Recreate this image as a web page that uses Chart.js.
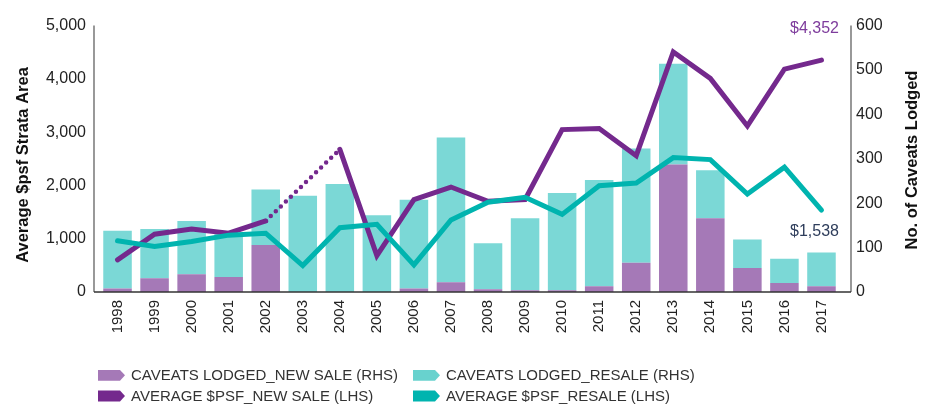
<!DOCTYPE html>
<html>
<head>
<meta charset="utf-8">
<script src="https://cdn.jsdelivr.net/npm/chart.js@4/dist/chart.umd.min.js"></script>
<style>
  html, body { margin: 0; padding: 0; background: #ffffff; }
  #wrap { width: 930px; height: 405px; position: relative; }
</style>
</head>
<body>
<div id="wrap"><canvas id="c" width="930" height="405"></canvas></div>
<script>
const years = ['1998','1999','2000','2001','2002','2003','2004','2005','2006','2007','2008','2009','2010','2011','2012','2013','2014','2015','2016','2017'];
const caveatsNewSale = [8, 31, 40, 34, 106, 0, 0, 0, 8, 22, 6, 4, 4, 13, 66, 287, 166, 54, 20, 13];
const caveatsResale = [130, 111, 120, 97, 125, 217, 243, 173, 200, 326, 104, 162, 219, 239, 257, 227, 108, 64, 55, 76];
const psfNewSale = [602, 1085, 1184, 1104, 1333, null, 2677, 682, 1736, 1970, 1704, 1736, 3048, 3067, 2559, 4506, 4009, 3117, 4182, 4352];
const psfResale = [961, 855, 948, 1067, 1104, 496, 1208, 1271, 509, 1351, 1686, 1779, 1457, 1996, 2045, 2522, 2485, 1840, 2342, 1538];
// dotted bridge over the missing 2003 new-sale value (uses the same readings for 2002 and 2004)
const dottedFrom = 4, dottedTo = 6;
const psfNewSaleBridge = psfNewSale.map((v, i) => (i === dottedFrom || i === dottedTo) ? v : null);

const leftTicks = [0, 1000, 2000, 3000, 4000, 5000];
const rightTicks = [0, 100, 200, 300, 400, 500, 600];
const leftTitle = 'Average $psf Strata Area';
const rightTitle = 'No. of Caveats Lodged';
const legendLabels = ['CAVEATS LODGED_NEW SALE (RHS)', 'CAVEATS LODGED_RESALE (RHS)', 'AVERAGE $PSF_NEW SALE (LHS)', 'AVERAGE $PSF_RESALE (LHS)'];

const C_BAR_NEW = '#A579B7';
const C_BAR_RES = '#7BD8D6';
const C_LINE_NEW = '#74298D';
const C_LINE_RES = '#00B4AF';
const FONT = '"Liberation Sans", Arial, Helvetica, sans-serif';

const fmt = v => Number(v).toLocaleString('en-US');

const decor = {
  id: 'decor',
  afterDraw(chart) {
    const ctx = chart.ctx;
    const a = chart.chartArea;
    const xs = chart.scales.x, yL = chart.scales.y;
    ctx.save();
    // axis lines
    const axL = a.left - 5, axR = a.right + 11;
    ctx.strokeStyle = '#555';
    ctx.lineWidth = 1.2;
    ctx.beginPath();
    ctx.moveTo(axL, a.top); ctx.lineTo(axL, a.bottom);
    ctx.moveTo(axR, a.top); ctx.lineTo(axR, a.bottom);
    ctx.stroke();
    ctx.strokeStyle = '#333';
    ctx.lineWidth = 1.6;
    ctx.beginPath();
    ctx.moveTo(axL, a.bottom); ctx.lineTo(axR, a.bottom);
    ctx.stroke();

    // axis titles
    ctx.fillStyle = '#111';
    ctx.font = 'bold 16.5px ' + FONT;
    ctx.textAlign = 'center';
    ctx.textBaseline = 'middle';
    ctx.save();
    ctx.translate(23, 165);
    ctx.rotate(-Math.PI / 2);
    ctx.fillText(leftTitle, 0, 0);
    ctx.restore();
    ctx.save();
    ctx.translate(912, 160);
    ctx.rotate(-Math.PI / 2);
    ctx.fillText(rightTitle, 0, 0);
    ctx.restore();

    // end annotations
    const last = years.length - 1;
    const lx = xs.getPixelForValue(last) + 17.5;
    ctx.font = '16px ' + FONT;
    ctx.textAlign = 'right';
    ctx.fillStyle = '#7E3C9C';
    ctx.fillText('$' + fmt(psfNewSale[last]), lx, yL.getPixelForValue(psfNewSale[last]) - 32);
    ctx.fillStyle = '#2E3D5B';
    ctx.fillText('$' + fmt(psfResale[last]), lx, yL.getPixelForValue(psfResale[last]) + 21.5);

    // legend
    const items = [
      { x: 98, y: 375.3, c: C_BAR_NEW, t: legendLabels[0] },
      { x: 413, y: 375.3, c: '#68D2CE', t: legendLabels[1] },
      { x: 98, y: 396, c: C_LINE_NEW, t: legendLabels[2] },
      { x: 413, y: 396, c: C_LINE_RES, t: legendLabels[3] }
    ];
    ctx.font = '15px ' + FONT;
    ctx.textAlign = 'left';
    ctx.textBaseline = 'middle';
    items.forEach(it => {
      ctx.fillStyle = it.c;
      ctx.beginPath();
      ctx.moveTo(it.x, it.y - 5.4);
      ctx.lineTo(it.x + 22, it.y - 5.4);
      ctx.lineTo(it.x + 27, it.y);
      ctx.lineTo(it.x + 22, it.y + 5.4);
      ctx.lineTo(it.x, it.y + 5.4);
      ctx.closePath();
      ctx.fill();
      ctx.fillStyle = '#333';
      ctx.fillText(it.t, it.x + 33, it.y + 0.5);
    });
    ctx.restore();
  }
};

new Chart(document.getElementById('c'), {
  data: {
    labels: years,
    datasets: [
      {
        type: 'line', label: 'AVERAGE $PSF_RESALE (LHS)', data: psfResale, yAxisID: 'y',
        borderColor: C_LINE_RES, borderWidth: 5, pointRadius: 0, tension: 0,
        borderCapStyle: 'round', borderJoinStyle: 'miter', order: 0
      },
      {
        type: 'line', label: 'AVERAGE $PSF_NEW SALE (LHS)', data: psfNewSale, yAxisID: 'y',
        borderColor: C_LINE_NEW, borderWidth: 5, pointRadius: 0, tension: 0, spanGaps: false,
        borderCapStyle: 'round', borderJoinStyle: 'miter', order: 1
      },
      {
        type: 'line', label: 'bridge', data: psfNewSaleBridge, yAxisID: 'y',
        borderColor: C_LINE_NEW, borderWidth: 4.5, pointRadius: 0, tension: 0, spanGaps: true,
        borderDash: [0, 7], borderCapStyle: 'round', order: 1
      },
      {
        type: 'bar', label: 'CAVEATS LODGED_NEW SALE (RHS)', data: caveatsNewSale, yAxisID: 'y1',
        backgroundColor: C_BAR_NEW, borderWidth: 0, stack: 'c', order: 2,
        barPercentage: 0.77, categoryPercentage: 1
      },
      {
        type: 'bar', label: 'CAVEATS LODGED_RESALE (RHS)', data: caveatsResale, yAxisID: 'y1',
        backgroundColor: C_BAR_RES, borderWidth: 0, stack: 'c', order: 2,
        barPercentage: 0.77, categoryPercentage: 1
      }
    ]
  },
  options: {
    responsive: false,
    animation: false,
    layout: { padding: { top: 23, left: 0, right: 0, bottom: 0 } },
    plugins: { legend: { display: false }, tooltip: { enabled: false } },
    scales: {
      x: {
        stacked: true,
        offset: true,
        grid: { display: false, drawTicks: false },
        border: { display: false },
        ticks: {
          minRotation: 90, maxRotation: 90, autoSkip: false, padding: 8,
          color: '#222', font: { family: FONT, size: 15 }
        },
        afterFit: s => { s.height = 113; }
      },
      y: {
        position: 'left', min: 0, max: 5000,
        grid: { display: false, drawTicks: false },
        border: { display: false },
        afterBuildTicks: s => { s.ticks = leftTicks.map(v => ({ value: v })); },
        ticks: { padding: 13, color: '#222', font: { family: FONT, size: 16 }, callback: v => fmt(v) },
        afterFit: s => { s.width = 99; }
      },
      y1: {
        position: 'right', min: 0, max: 600, stacked: true,
        grid: { display: false, drawTicks: false },
        border: { display: false },
        afterBuildTicks: s => { s.ticks = rightTicks.map(v => ({ value: v })); },
        ticks: { padding: 16, color: '#222', font: { family: FONT, size: 16 }, callback: v => fmt(v) },
        afterFit: s => { s.width = 90; }
      }
    }
  },
  plugins: [decor]
});
</script>
</body>
</html>
